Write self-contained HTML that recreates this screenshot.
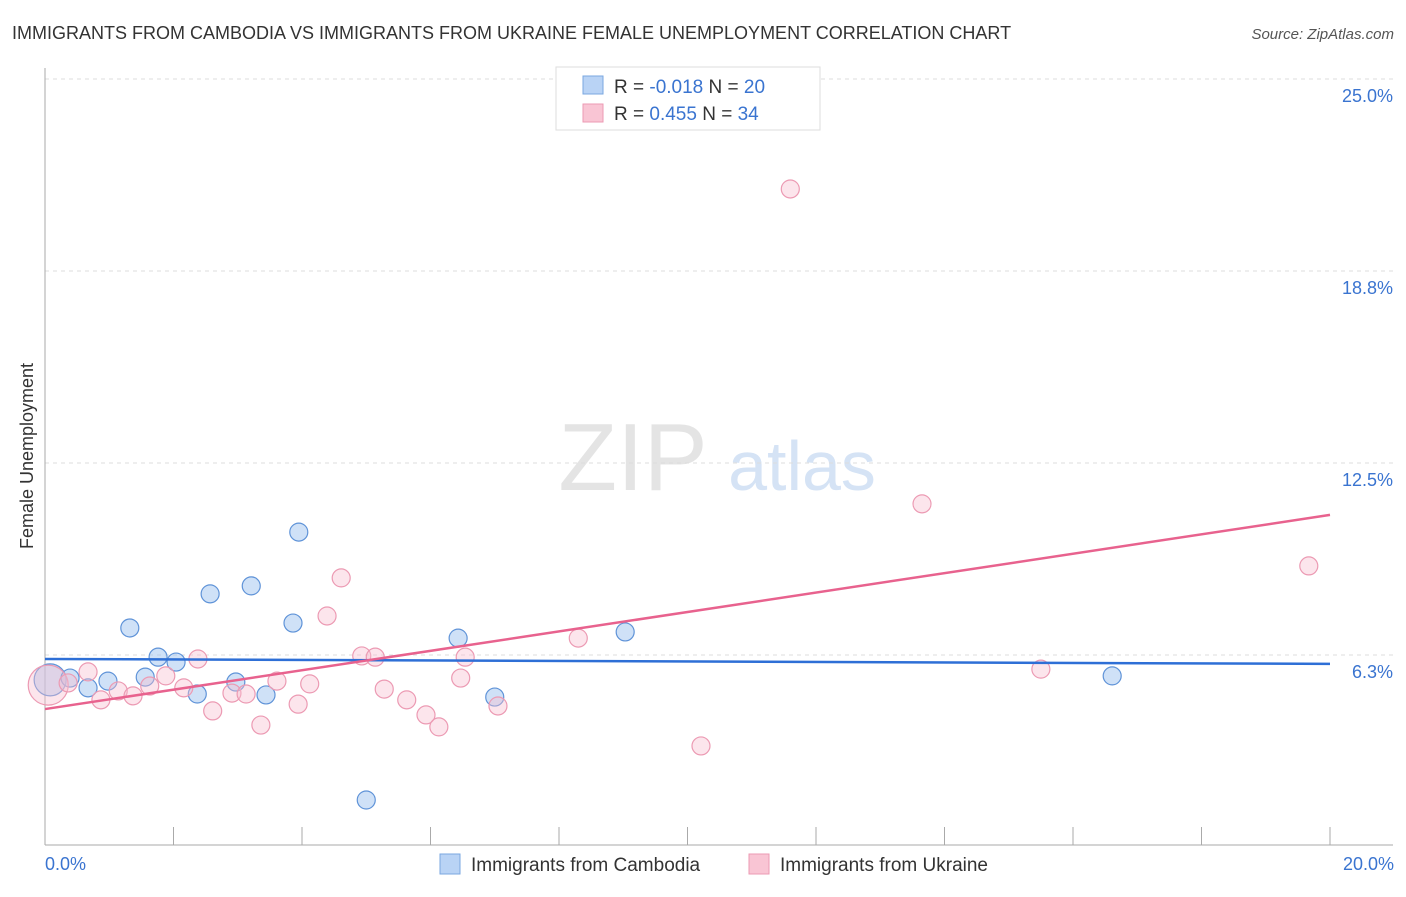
<!DOCTYPE html>
<html><head><meta charset="utf-8"><style>
body{margin:0;background:#fff;font-family:"Liberation Sans",sans-serif;}
svg text{font-family:"Liberation Sans",sans-serif;}
</style></head><body>
<svg width="1406" height="892" xmlns="http://www.w3.org/2000/svg">
<text x="12" y="39" font-size="18" fill="#333">IMMIGRANTS FROM CAMBODIA VS IMMIGRANTS FROM UKRAINE FEMALE UNEMPLOYMENT CORRELATION CHART</text>
<text x="1394" y="39" font-size="15" fill="#555" text-anchor="end" font-style="italic">Source: ZipAtlas.com</text>
<g>
<text x="633" y="490" font-size="96" fill="#e4e4e4" text-anchor="middle" font-family="Liberation Serif">ZIP</text>
<text x="802" y="490" font-size="70" fill="#d5e3f5" text-anchor="middle">atlas</text>
</g>
<g id="grid"></g>
<g id="axes"></g>
<g id="marks"></g>
<text transform="translate(33,456) rotate(-90)" font-size="18" fill="#333" text-anchor="middle">Female Unemployment</text>
<text x="45" y="870" font-size="18" fill="#3a74d0">0.0%</text>
<text x="1394" y="870" font-size="18" fill="#3a74d0" text-anchor="end">20.0%</text>
<g>
<rect x="556" y="67" width="264" height="63" fill="#fff" stroke="#ddd"/>
<rect x="583" y="76" width="20" height="18" fill="#b9d3f5" stroke="#7aa7e0"/>
<rect x="583" y="104" width="20" height="18" fill="#f9c5d4" stroke="#ec9ab3"/>
<text x="614" y="93" font-size="19" fill="#333">R = <tspan fill="#3a74d0">-0.018</tspan>   N = <tspan fill="#3a74d0">20</tspan></text>
<text x="614" y="120" font-size="19" fill="#333">R =  <tspan fill="#3a74d0">0.455</tspan>   N = <tspan fill="#3a74d0">34</tspan></text>
</g>
<g>
<rect x="440" y="854" width="20" height="20" fill="#b9d3f5" stroke="#7aa7e0"/>
<text x="471" y="871" font-size="19" fill="#333">Immigrants from Cambodia</text>
<rect x="749" y="854" width="20" height="20" fill="#f9c5d4" stroke="#ec9ab3"/>
<text x="780" y="871" font-size="19" fill="#333">Immigrants from Ukraine</text>
</g>
</svg>
<script>
const yTicks=[25,18.75,12.5,6.25];
const yTickLabels=["25.0%","18.8%","12.5%","6.3%"];
const xTicks=[2,4,6,8,10,12,14,16,18,20];
const cambX=[0.08,0.39,0.67,0.98,1.32,1.56,1.76,2.04,2.37,2.57,2.97,3.21,3.44,3.86,3.95,5.00,6.43,7.00,9.03,16.61];
const cambY=[5.44,5.50,5.18,5.40,7.13,5.53,6.18,6.02,4.98,8.24,5.37,8.50,4.95,7.29,10.25,1.53,6.80,4.88,7.00,5.57];
const cambR=[16,9,9,9,9,9,9,9,9,9,9,9,9,9,9,9,9,9,9,9];
const ukrX=[0.05,0.36,0.67,0.87,1.14,1.37,1.63,1.88,2.16,2.38,2.61,2.91,3.13,3.36,3.61,3.94,4.12,4.39,4.61,4.93,5.14,5.28,5.63,5.93,6.13,6.47,6.54,7.05,8.30,10.21,11.60,13.65,15.50,19.67];
const ukrY=[5.27,5.34,5.70,4.79,5.08,4.92,5.24,5.57,5.18,6.12,4.43,5.01,4.98,3.97,5.40,4.65,5.31,7.52,8.76,6.22,6.18,5.14,4.79,4.30,3.91,5.50,6.18,4.59,6.80,3.29,21.42,11.17,5.79,9.15];
const ukrR=[20,9,9,9,9,9,9,9,9,9,9,9,9,9,9,9,9,9,9,9,9,9,9,9,9,9,9,9,9,9,9,9,9,9];
const cambTrend=[6.12,5.96];
const ukrTrend=[4.49,10.81];
const NS="http://www.w3.org/2000/svg";
const X=v=>45+v/20*1285, Y=v=>847-v*30.72;
function mk(tag,attrs,parent){const e=document.createElementNS(NS,tag);for(const k in attrs)e.setAttribute(k,attrs[k]);document.getElementById(parent).appendChild(e);return e;}
yTicks.forEach((t,i)=>{
 const l=mk('line',{x1:45,x2:1393,y1:Y(t),y2:Y(t),stroke:'#ddd','stroke-dasharray':'4,4'},'grid');
 
 
 const tx=mk('text',{x:1393,y:Y(t)+23,'font-size':18,fill:'#3a74d0','text-anchor':'end'},'grid');
 tx.textContent=yTickLabels[i];
 
 
});
let a=mk('line',{x1:45,x2:45,y1:68,y2:845,stroke:'#aaa'},'axes');


a=mk('line',{x1:45,x2:1393,y1:845,y2:845,stroke:'#aaa'},'axes');


xTicks.forEach(t=>{
 const l=mk('line',{x1:X(t),x2:X(t),y1:827,y2:845,stroke:'#aaa'},'axes');
 
 
});
cambX.forEach((x,i)=>{
 const c=mk('circle',{cx:X(x),cy:Y(cambY[i]),r:cambR[i],fill:'rgba(160,196,240,0.5)',stroke:'#5f93d8','stroke-width':1.2},'marks');
 
 
});
ukrX.forEach((x,i)=>{
 const c=mk('circle',{cx:X(x),cy:Y(ukrY[i]),r:ukrR[i],fill:'rgba(248,190,208,0.4)',stroke:'#ec9ab3','stroke-width':1.2},'marks');
 
 
});
let t=mk('line',{x1:X(0),x2:X(20),y1:Y(cambTrend[0]),y2:Y(cambTrend[1]),stroke:'#2e6fd6','stroke-width':2.5},'marks');


t=mk('line',{x1:X(0),x2:X(20),y1:Y(ukrTrend[0]),y2:Y(ukrTrend[1]),stroke:'#e8628e','stroke-width':2.5},'marks');


</script>
</body></html>
